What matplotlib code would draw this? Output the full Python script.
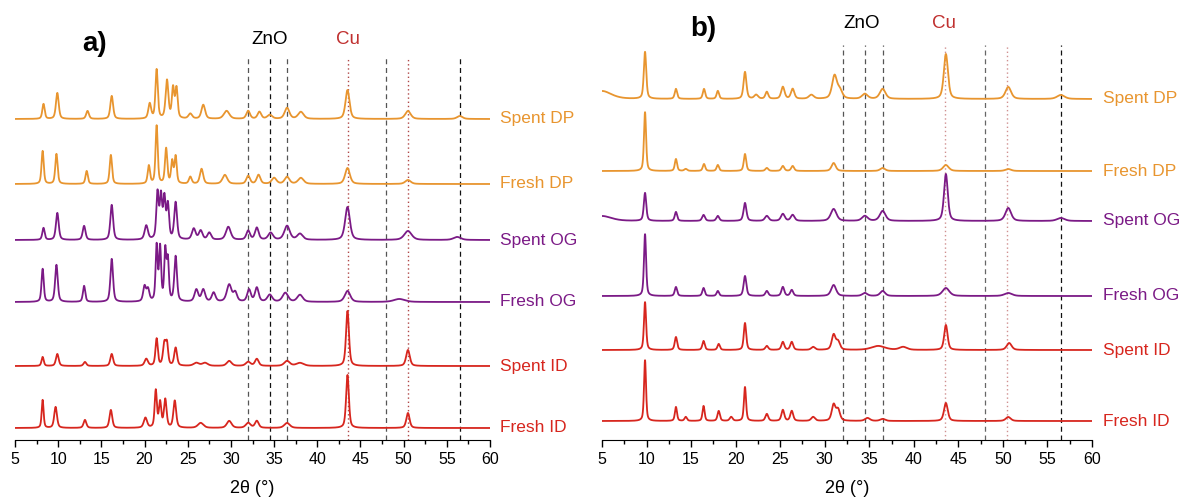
import matplotlib.pyplot as plt
import numpy as np
from matplotlib.ticker import MultipleLocator

plt.rcParams['font.family'] = ['Liberation Sans', 'DejaVu Sans']

W, H = 1187, 501

orange = '#E8952F'
purple = '#7B1A86'
red = '#D7261E'

names = ['Spent DP', 'Fresh DP', 'Spent OG', 'Fresh OG', 'Spent ID', 'Fresh ID']
colors = [orange, orange, purple, purple, red, red]

# reflections of each pattern: (2theta, height, fwhm)
a_spent_dp = [(8.3, 15, .32), (9.9, 26, .38), (13.4, 8, .38), (16.2, 23, .38), (20.6, 15, .38),
              (21.4, 49, .32), (22.6, 38, .38), (23.3, 30, .32), (23.7, 30, .32), (25.3, 5, .5),
              (26.8, 14, .5), (29.5, 8, .75), (32.0, 8, .5), (33.3, 7, .5), (34.5, 4, .65),
              (36.5, 11, .65), (38.1, 7, .75), (43.5, 29, .55), (50.5, 8, .75), (56.5, 3, .75)]
a_fresh_dp = [(8.2, 33, .3), (9.8, 30, .32), (13.3, 13, .32), (16.1, 29, .32), (20.5, 18, .32),
              (21.4, 58, .3), (22.5, 35, .32), (23.2, 22, .3), (23.6, 27, .3), (25.3, 7, .38),
              (26.6, 15, .45), (29.3, 9, .65), (32.0, 8, .5), (33.2, 9, .5), (35.0, 6, .65),
              (36.5, 7, .65), (38.1, 6, .75), (43.5, 16, .65), (50.5, 4, .75)]
a_spent_og = [(8.3, 12, .32), (9.9, 27, .38), (13.0, 14, .38), (16.2, 35, .38), (20.2, 14, .45),
              (21.5, 46, .32), (21.9, 42, .32), (22.3, 40, .32), (22.7, 34, .32), (23.6, 37, .38),
              (25.7, 11, .5), (26.5, 9, .5), (27.5, 7, .5), (29.7, 13, .65), (32.0, 9, .5),
              (33.0, 12, .5), (34.6, 7, .65), (36.5, 14, .75), (38.0, 6, .75), (43.5, 33, .65),
              (50.5, 9, 1.0), (56.2, 3, 1.0)]
a_fresh_og = [(8.2, 33, .3), (9.8, 37, .36), (13.0, 16, .32), (16.2, 43, .36), (20.0, 15, .38),
              (20.4, 12, .38), (21.4, 55, .28), (21.8, 53, .28), (22.4, 50, .28), (22.7, 40, .28),
              (23.6, 45, .36), (26.0, 12, .5), (26.8, 12, .5), (28.0, 9, .5), (29.8, 17, .65),
              (30.5, 9, .5), (32.1, 12, .5), (33.0, 14, .5), (34.5, 7, .65), (36.3, 9, .75),
              (38.0, 7, .75), (43.5, 11, .75), (49.5, 3, 1.5)]
a_spent_id = [(8.2, 9, .3), (9.9, 12, .38), (13.1, 4, .38), (16.2, 12, .38), (20.2, 7, .45),
              (21.4, 27, .32), (22.3, 22, .38), (22.6, 20, .32), (23.6, 18, .38), (26.0, 3, .75),
              (27.0, 3, .75), (29.8, 5, .65), (32.0, 4, .65), (33.0, 7, .5), (36.5, 5, .75),
              (38.0, 3, 1.0), (43.5, 55, .4), (50.5, 16, .5)]
a_fresh_id = [(8.2, 28, .26), (9.7, 21, .38), (13.1, 8, .38), (16.1, 18, .38), (20.1, 10, .45),
              (21.3, 37, .3), (21.8, 25, .32), (22.4, 28, .36), (23.5, 27, .38), (26.5, 5, .75),
              (29.8, 7, .65), (32.0, 5, .65), (33.0, 7, .5), (36.5, 5, .75), (43.5, 53, .38),
              (50.5, 15, .45)]

b_spent_dp = [(5.0, 8, 2.5), (9.83, 47, .32), (13.3, 10, .32), (16.45, 10, .32), (18.0, 8, .32),
              (21.05, 27, .38), (22.3, 4, .5), (23.5, 7, .38), (25.3, 12, .45), (26.4, 10, .45),
              (28.5, 4, .65), (31.1, 23, .65), (31.7, 8, .65), (34.5, 5, .75), (36.5, 10, .75),
              (43.6, 45, .55), (50.6, 12, .75), (56.5, 4, 1.0)]
b_fresh_dp = [(9.83, 59, .28), (13.3, 12, .3), (14.4, 2, .38), (16.45, 7, .32), (18.0, 6, .32),
              (21.05, 17, .32), (23.5, 3, .38), (25.3, 5, .38), (26.4, 5, .38), (31.0, 8, .55),
              (36.5, 3, .65), (43.6, 6, .75), (50.6, 2, .75)]
b_spent_og = [(5.0, 5, 2.5), (9.83, 28, .32), (13.3, 9, .32), (16.4, 6, .38), (18.0, 5, .38),
              (21.05, 18, .38), (23.5, 5, .5), (25.3, 7, .5), (26.4, 6, .5), (31.0, 12, .75),
              (34.5, 5, .75), (36.5, 10, .75), (43.6, 47, .5), (50.6, 13, .75), (56.5, 3, 1.0)]
b_fresh_og = [(9.83, 62, .28), (13.3, 9, .32), (16.4, 8, .32), (18.0, 5, .32), (21.05, 20, .36),
              (23.5, 5, .38), (25.3, 9, .38), (26.3, 6, .38), (31.0, 11, .65), (34.5, 3, .65),
              (36.5, 5, .65), (43.6, 8, .9), (50.6, 3, 1.0)]
b_spent_id = [(9.83, 48, .28), (13.3, 13, .32), (16.4, 9, .32), (18.1, 6, .32), (21.05, 27, .32),
              (23.5, 4, .38), (25.3, 8, .38), (26.3, 8, .38), (28.7, 3, .5), (31.0, 15, .5),
              (31.5, 8, .5), (36.0, 4, 1.8), (38.8, 3, 1.0), (43.6, 25, .45), (50.7, 7, .65)]
b_fresh_id = [(9.83, 61, .26), (13.3, 14, .28), (14.4, 4, .32), (16.4, 15, .28), (18.1, 10, .32),
              (19.5, 4, .38), (21.05, 34, .28), (23.5, 7, .38), (25.3, 11, .38), (26.3, 10, .38),
              (28.7, 4, .5), (31.0, 16, .5), (31.5, 11, .5), (34.8, 3, .65), (36.5, 2, .65),
              (43.6, 18, .5), (50.6, 4, .65)]

a_patterns = [a_spent_dp, a_fresh_dp, a_spent_og, a_fresh_og, a_spent_id, a_fresh_id]
b_patterns = [b_spent_dp, b_fresh_dp, b_spent_og, b_fresh_og, b_spent_id, b_fresh_id]
a_offsets = [321, 256, 200, 138, 74, 12]
b_offsets = [341, 269, 219, 144, 90, 19]

zno_lines = [32.0, 34.5, 36.5, 48.0, 56.5]
cu_lines = [43.5, 50.5]

two_theta = np.linspace(5, 60, 2751)


def profile(peaks):
    y = np.zeros_like(two_theta)
    for pos, h, w in peaks:
        d = (two_theta - pos) / (w / 2)
        y += h * (0.5 / (1 + d**2) + 0.5 * np.exp(-np.log(2) * d**2))
    return y


def draw_panel(rect, patterns, offsets, line_top, zno_cols, cu_col):
    ax = fig.add_axes(rect)
    for zx, c in zip(zno_lines, zno_cols):
        ax.vlines(zx, 0, line_top, colors=c, linestyles=(0, (4, 3)), lw=0.9)
    for cx in cu_lines:
        ax.vlines(cx, 0, line_top, colors=cu_col, linestyles=(0, (1, 2)), lw=1.0)
    for peaks, off, name, c in zip(patterns, offsets, names, colors):
        ax.plot(two_theta, profile(peaks) + off, '-', color=c, lw=1.3)
        ax.text(61.2, off, name, color=c, fontsize=12.5, va='center', ha='left', clip_on=False)
    ax.set_xlim(5, 60)
    ax.set_ylim(0, 420)
    for s in ['left', 'right', 'top']:
        ax.spines[s].set_visible(False)
    ax.set_yticks([])
    ax.xaxis.set_major_locator(MultipleLocator(5))
    ax.xaxis.set_minor_locator(MultipleLocator(2.5))
    ax.tick_params(axis='x', which='major', length=5, width=1, labelsize=11.5, pad=4)
    ax.tick_params(axis='x', which='minor', length=3, width=1)
    ax.set_xlabel('2θ (°)', fontsize=13, labelpad=9)
    ax.patch.set_alpha(0)
    return ax


fig = plt.figure(figsize=(W / 100, H / 100), dpi=100)
bottom = (H - 440) / H
height = 420 / H
draw_panel([15 / W, bottom, 475 / W, height], a_patterns, a_offsets, 383,
           ['#555555', '#111111', '#555555', '#555555', '#111111'], '#B04848')
draw_panel([602 / W, bottom, 490 / W, height], b_patterns, b_offsets, 395,
           ['#555555', '#555555', '#555555', '#666666', '#111111'], '#D09090')

fig.text(95 / W, 1 - 44 / H, 'a)', fontsize=20, fontweight='bold', ha='center', va='center')
fig.text(703 / W, 1 - 29 / H, 'b)', fontsize=20, fontweight='bold', ha='center', va='center')
fig.text(270 / W, 1 - 40 / H, 'ZnO', fontsize=13.5, ha='center', va='center')
fig.text(348 / W, 1 - 40 / H, 'Cu', fontsize=13.5, color='#C0302F', ha='center', va='center')
fig.text(862 / W, 1 - 23 / H, 'ZnO', fontsize=13.5, ha='center', va='center')
fig.text(944 / W, 1 - 23 / H, 'Cu', fontsize=13.5, color='#C0302F', ha='center', va='center')

fig.savefig('out.png', dpi=100)
